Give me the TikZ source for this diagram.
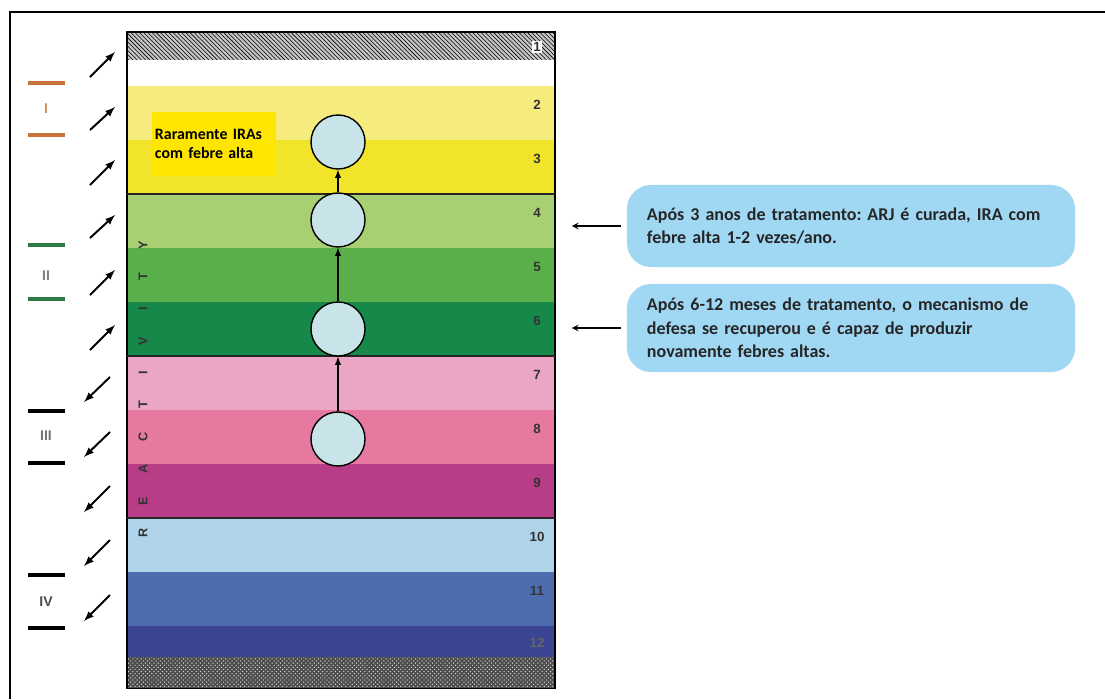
\documentclass[tikz,border=0pt]{standalone}
\usepackage{fontspec}
\setmainfont{Carlito}
\newfontfamily\arialfont{Liberation Sans}
\usepackage{xcolor}
\usetikzlibrary{arrows,positioning,shapes,patterns}
\frenchspacing

\definecolor{bandtwo}{HTML}{F6EC7E}
\definecolor{bandthree}{HTML}{F2E42A}
\definecolor{bandfour}{HTML}{A9CF73}
\definecolor{bandfive}{HTML}{59B04A}
\definecolor{bandsix}{HTML}{16894A}
\definecolor{bandseven}{HTML}{ECA6C5}
\definecolor{bandeight}{HTML}{E6799F}
\definecolor{bandnine}{HTML}{B93C87}
\definecolor{bandten}{HTML}{AFD4E9}
\definecolor{bandeleven}{HTML}{4E6DAE}
\definecolor{bandtwelve}{HTML}{3B4593}
\definecolor{pearlblue}{HTML}{C9E4E8}
\definecolor{noteblue}{HTML}{A0D8F4}
\definecolor{hintyellow}{HTML}{FFE600}
\definecolor{stageone}{HTML}{C8733A}
\definecolor{stagetwo}{HTML}{2E7A45}

\newcommand{\rl}[1]{\makebox[0.8cm]{#1}}

\begin{document}
\begin{tikzpicture}[x=0.025cm, y=-0.025cm, node distance=0pt]
	\tikzstyle{band}
	  =[rectangle, minimum width=10.7cm, inner sep=0pt, outer sep=0pt]
	\tikzstyle{num}
	  =[font=\arialfont\bfseries\fontsize{9.5}{9.5}\selectfont, text=black!80, inner sep=0pt]
	\tikzstyle{pearl}
	  =[draw, circle, line width=1pt, fill=pearlblue, minimum size=1.35cm, inner sep=0pt]
	\tikzstyle{note}
	  =[rectangle, rounded corners=0.6cm, fill=noteblue, text width=10.2cm, 
	  inner xsep=0.5cm, align=left, text=black!85,
	  font=\bfseries\fontsize{12.8}{16.6}\selectfont]
	\tikzstyle{hint}
	  =[rectangle, fill=hintyellow, text width=2.95cm, minimum height=1.6cm,
	  inner xsep=0.08cm, align=left, font=\bfseries\fontsize{11.3}{13.6}\selectfont]
	\tikzstyle{roman}
	  =[font=\arialfont\bfseries\fontsize{10}{10}\selectfont, inner sep=0pt]
	\tikzstyle{tick}
	  =[line width=2.6pt]
	\tikzstyle{tilt}
	  =[-latex, line width=1.4pt]

	\useasboundingbox (0,0) rectangle (1105,699);

	% frame
	\draw[line width=2pt] (1105,12) -- (10,12) -- (10,699);

	% layers
	\node[band, minimum height=0.7cm, fill=gray!45,
	  postaction={pattern=north west lines, pattern color=black}] (b1)
	  at (341,46) {};
	\node[band, minimum height=0.65cm, fill=white] (b0)
	  [below=of b1] {};
	\node[band, minimum height=1.35cm, fill=bandtwo] (b2)
	  [below=of b0] {};
	\node[band, minimum height=1.35cm, fill=bandthree] (b3)
	  [below=of b2] {};
	\node[band, minimum height=1.35cm, fill=bandfour] (b4)
	  [below=of b3] {};
	\node[band, minimum height=1.35cm, fill=bandfive] (b5)
	  [below=of b4] {};
	\node[band, minimum height=1.35cm, fill=bandsix] (b6)
	  [below=of b5] {};
	\node[band, minimum height=1.35cm, fill=bandseven] (b7)
	  [below=of b6] {};
	\node[band, minimum height=1.35cm, fill=bandeight] (b8)
	  [below=of b7] {};
	\node[band, minimum height=1.35cm, fill=bandnine] (b9)
	  [below=of b8] {};
	\node[band, minimum height=1.35cm, fill=bandten] (b10)
	  [below=of b9] {};
	\node[band, minimum height=1.35cm, fill=bandeleven] (b11)
	  [below=of b10] {};
	\node[band, minimum height=0.775cm, fill=bandtwelve] (b12)
	  [below=of b11] {};
	\node[band, minimum height=0.775cm, fill=black!70,
	  postaction={pattern=crosshatch dots, pattern color=white!85!black}] (b13)
	  [below=of b12] {};

	\draw[line width=0.8pt] (b1.north west) rectangle (b13.south east);
	\draw[line width=1.4pt, black!85] (b3.south west) -- (b3.south east);
	\draw[line width=1.4pt, black!85] (b6.south west) -- (b6.south east);
	\draw[line width=1.4pt, black!85] (b9.south west) -- (b9.south east);

	% layer numbers
	\node[num, fill=white, inner sep=1pt] (n1) at ([shift={(-18,15)}]b1.north east) {1};
	\node[num] (n2) at ([shift={(-18,19)}]b2.north east) {2};
	\node[num] (n3) at ([shift={(-18,19)}]b3.north east) {3};
	\node[num] (n4) at ([shift={(-18,19)}]b4.north east) {4};
	\node[num] (n5) at ([shift={(-18,19)}]b5.north east) {5};
	\node[num] (n6) at ([shift={(-18,19)}]b6.north east) {6};
	\node[num] (n7) at ([shift={(-18,19)}]b7.north east) {7};
	\node[num] (n8) at ([shift={(-18,19)}]b8.north east) {8};
	\node[num] (n9) at ([shift={(-18,19)}]b9.north east) {9};
	\node[num] (n10) at ([shift={(-18,19)}]b10.north east) {10};
	\node[num] (n11) at ([shift={(-18,19)}]b11.north east) {11};
	\node[num, text=black!60] (n12) at ([shift={(-18,17)}]b12.north east) {12};

	\node[font=\arialfont\bfseries\fontsize{9}{9}\selectfont, text=black!80,
	  rotate=90, inner sep=0pt] (react)
	  at (143,389) {\rl{R}\rl{E}\rl{A}\rl{C}\rl{T}\rl{I}\rl{V}\rl{I}\rl{T}\rl{Y}};

	\node[hint] (hint) at (214,144) {Raramente IRAs\\com febre alta};

	% patient
	\node[pearl] (c1) at (338,142) {};
	\node[pearl] (c2) at (338,220) {};
	\node[pearl] (c3) at (338,329) {};
	\node[pearl] (c4) at (338,439) {};
	\draw[-latex, line width=1pt] (c4) -- (c3);
	\draw[-latex, line width=1pt] (c3) -- (c2);
	\draw[-latex, line width=1pt] (c2) -- (c1);

	% stages
	\draw[tick, stageone] (28,83) -- (65,83);
	\draw[tick, stageone] (28,135) -- (65,135);
	\node[roman, text=stageone!80] (r1) at (46,109) {I};
	\draw[tick, stagetwo] (28,245) -- (65,245);
	\draw[tick, stagetwo] (28,299) -- (65,299);
	\node[roman, text=black!50] (r2) at (46,276) {II};
	\draw[tick] (28,411) -- (65,411);
	\draw[tick] (28,463) -- (65,463);
	\node[roman, text=black!55] (r3) at (46,436) {III};
	\draw[tick] (28,575) -- (65,575);
	\draw[tick] (28,628) -- (65,628);
	\node[roman, text=black!70] (r4) at (46,602) {IV};

	\draw[tilt] (90,77) -- (115,52);
	\draw[tilt] (90,130) -- (115,107);
	\draw[tilt] (90,185) -- (115,160);
	\draw[tilt] (90,238) -- (115,215);
	\draw[tilt] (90,295) -- (115,270);
	\draw[tilt] (90,350) -- (115,325);
	\draw[tilt] (110,377) -- (84,402);
	\draw[tilt] (110,432) -- (84,457);
	\draw[tilt] (110,486) -- (84,512);
	\draw[tilt] (110,540) -- (84,566);
	\draw[tilt] (110,595) -- (84,621);

	% notes
	\node[note, minimum height=2.05cm] (note1) at (851,226)
	  {Após 3 anos de tratamento: ARJ é curada, IRA com\\febre alta 1-2 vezes/ano.};
	\node[note, minimum height=2.2cm] (note2) at (851,328)
	  {Após 6-12 meses de tratamento, o mecanismo de\\defesa se recuperou e é capaz de produzir\\novamente febres altas.};
	\draw[-stealth, line width=1.1pt, shorten <=0.15cm, shorten >=0.42cm]
	  (note1.west) -- (note1.west -| b4.east);
	\draw[-stealth, line width=1.1pt, shorten <=0.15cm, shorten >=0.42cm]
	  (note2.west) -- (note2.west -| b6.east);
\end{tikzpicture}
\end{document}
